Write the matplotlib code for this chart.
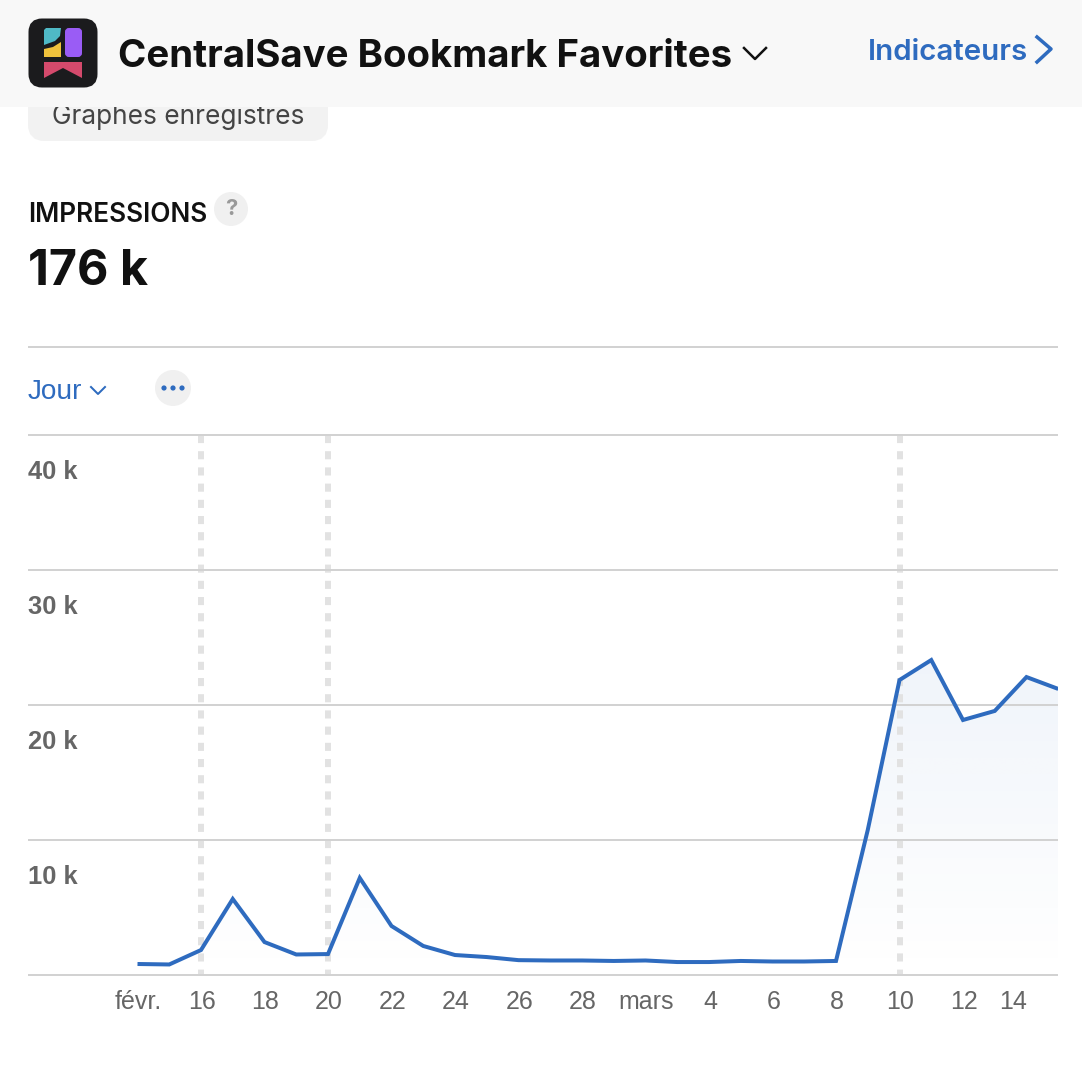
# plot.py - CentralSave impressions screen
import numpy as np
import matplotlib
matplotlib.use('Agg')
import matplotlib.pyplot as plt
from matplotlib.patches import Circle, FancyBboxPatch, Polygon, Rectangle
from matplotlib.transforms import ScaledTranslation

# days counted from 16 Feb
days = list(range(-2, 28))
impressions = [815, 780, 1850, 5630, 2440, 1520, 1550, 7190, 3630, 2150,
               1480, 1330, 1100, 1075, 1075, 1040, 1075, 960, 960, 1040,
               1000, 1000, 1040, 10740, 21850, 23330, 18890, 19560, 22070, 21190]
tick_days = [-2, 0, 2, 4, 6, 8, 10, 12, 14, 16, 18, 20, 22, 24, 26]
tick_labels = ['févr.', '16', '18', '20', '22', '24', '26', '28', 'mars',
               '4', '6', '8', '10', '12', '14']
y_ticks = [0, 10000, 20000, 30000, 40000]
y_labels = ['', '10 k', '20 k', '30 k', '40 k']
marked_days = [0, 4, 22]

BLUE = '#2e6bbf'
GRID = '#d2d2d2'
GREY = '#666666'
W, H = 1082, 1072
DAY_PX = 31.75


def px(n):
    return n * 0.72


fig = plt.figure(figsize=(W / 100, H / 100), dpi=100, facecolor='white')

# chart
ax = fig.add_axes([28 / W, 1 - 975 / H, (1058 - 28) / W, (975 - 435) / H], zorder=1)
ax.patch.set_alpha(0)
x_lim = ((28 - 201) / DAY_PX, (1058 - 201) / DAY_PX)

poly = ax.fill_between(days, impressions, 0, color='none')
top = 30000
grad = np.zeros((256, 2, 4))
grad[..., 0], grad[..., 1], grad[..., 2] = matplotlib.colors.to_rgb(BLUE)
grad[..., 3] = np.linspace(0.095, 0.0, 256)[:, None]
im = ax.imshow(grad, extent=[days[0], days[-1], 0, top], aspect='auto', zorder=1,
               interpolation='bilinear')
im.set_clip_path(poly.get_paths()[0], transform=ax.transData)

for d in marked_days:
    ax.plot([d, d], [40000, 0], color='#e2e2e2', lw=px(6), ls=(0, (1.35, 1.35)),
            dash_capstyle='butt', zorder=2)
ax.plot(days, impressions, color=BLUE, lw=px(4), solid_joinstyle='miter',
        solid_capstyle='butt', zorder=4)

ax.set_xlim(*x_lim)
ax.set_ylim(0, 40000)
ax.set_yticks(y_ticks)
ax.set_yticklabels([])
ax.grid(axis='y', color=GRID, lw=px(2), zorder=3, clip_on=False, solid_capstyle='butt')
ax.set_axisbelow(False)
ax.tick_params(length=0)
for s in ax.spines.values():
    s.set_visible(False)
ax.set_xticks(tick_days)
ax.set_xticklabels(tick_labels, fontsize=px(25), color=GREY, family='Liberation Sans')
ax.tick_params(axis='x', pad=px(15))
# labels sit a pixel right of the date, the last one is pushed in from the edge
for i, lab in enumerate(ax.get_xticklabels()):
    dx = -13 if i == len(tick_labels) - 1 else 1
    lab.set_transform(lab.get_transform() + ScaledTranslation(dx / 100, 0, fig.dpi_scale_trans))

for v, t in zip(y_ticks, y_labels):
    ax.annotate(t, xy=(0, v), xycoords=ax.get_yaxis_transform(), xytext=(0, px(-37)),
                textcoords='offset points', fontsize=px(25.5), fontweight='bold',
                color=GREY, family='Liberation Sans', va='center', ha='left', zorder=5)

# page chrome, in pixel coordinates
ui = fig.add_axes([0, 0, 1, 1], zorder=2)
ui.set_xlim(0, W)
ui.set_ylim(H, 0)
ui.axis('off')

ui.add_patch(FancyBboxPatch((36, 60), 284, 73, boxstyle='round,pad=0,rounding_size=8',
                            mutation_aspect=1, fc='#f2f2f2', ec='#f2f2f2', lw=px(16), zorder=1))
ui.text(52, 116, 'Graphes enregistrés', fontsize=px(26.2), color='#444444', family='Inter',
        va='center', zorder=2)
ui.add_patch(Rectangle((0, 0), W, 107, fc='#f8f8f8', ec='none', zorder=3))

ui.add_patch(FancyBboxPatch((31, 21), 64, 64, boxstyle='round,pad=0,rounding_size=11',
                            fc='#1b1b1d', ec='#1b1b1d', lw=px(5), zorder=4))
ui.add_patch(Polygon([(46, 28), (61, 28), (60, 36), (55, 41), (44, 45), (44, 30)],
                     fc='#4fb9c6', ec='none', zorder=5))
ui.add_patch(Polygon([(61, 42), (61, 57), (44, 57), (44, 49), (53, 47)],
                     fc='#f0c23c', ec='none', zorder=5))
ui.add_patch(FancyBboxPatch((67, 30), 13, 25, boxstyle='round,pad=0,rounding_size=2',
                            fc='#9a5cf5', ec='#9a5cf5', lw=px(4), zorder=5))
ui.add_patch(Polygon([(44, 62), (82, 62), (82, 78), (63, 68), (44, 78)],
                     fc='#d54a6c', ec='none', zorder=5))

ui.text(118, 57, 'CentralSave Bookmark Favorites', fontsize=px(38.4), fontweight='bold',
        color='#111111', family='Inter', va='center', zorder=5)
ui.plot([744, 755, 766], [48, 59, 48], color='#111111', lw=px(2.5), zorder=5)
ui.text(868, 52, 'Indicateurs', fontsize=px(29.5), fontweight='semibold', color=BLUE,
        family='Inter', va='center', zorder=5)
ui.plot([1037, 1051, 1037], [37, 49, 62], color=BLUE, lw=px(3.5), zorder=5)

ui.text(28, 215, 'IMPRESSIONS', fontsize=px(26.2), fontweight='semibold', color='#111111',
        family='Inter', va='center')
ui.add_patch(Circle((231, 209), 17, fc='#f0f0f0', ec='none'))
ui.text(231, 209, '?', fontsize=px(22), fontweight='bold', color='#999999', family='Inter',
        ha='center', va='center')
ui.text(28, 272, '176 k', fontsize=px(48.5), fontweight='bold', color='#111111', family='Inter',
        va='center')

ui.plot([28, 1058], [347, 347], color=GRID, lw=px(2), solid_capstyle='butt')
ui.text(28, 392, 'Jour', fontsize=px(28), color=BLUE, family='Liberation Sans', va='center')
ui.plot([91, 98, 105], [387, 394, 387], color=BLUE, lw=px(2))
ui.add_patch(Circle((173, 388), 18, fc='#f0f0f0', ec='none'))
for cx in [164, 173, 182]:
    ui.add_patch(Circle((cx, 388), 2.6, fc=BLUE, ec='none'))

fig.savefig('out.png', dpi=100, facecolor='white')
